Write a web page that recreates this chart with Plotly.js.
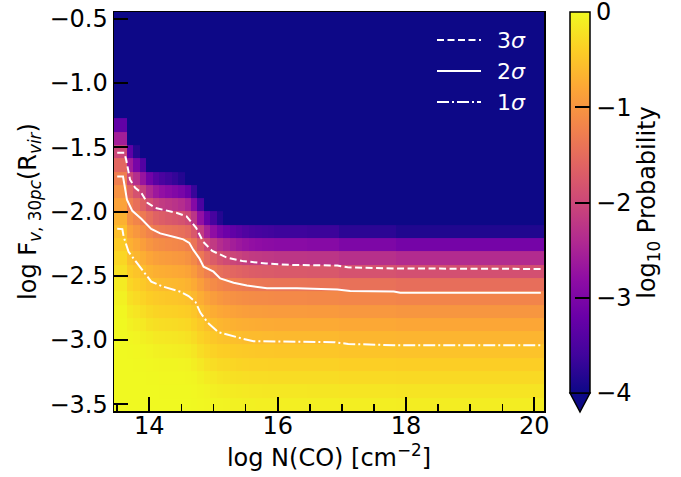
<!DOCTYPE html>
<html>
<head>
<meta charset="utf-8">
<script src="https://cdn.plot.ly/plotly-3.0.1.min.js"></script>
<style>html,body{margin:0;padding:0;background:#fff;}#chart{width:681px;height:477px;}</style>
</head>
<body>
<div id="chart"></div>
<script>
const _ = null;
// bin edges in log N(CO)
const xEdges = [13.45,13.55,13.65,13.75,13.85,13.95,14.05,14.15,14.25,14.35,14.45,14.55,14.65,14.75,14.85,14.95,15.05,15.15,15.25,15.35,15.45,15.55,15.65,15.75,15.85,15.95,16.45,16.95,17.85,20.15];
// bin centres in log F (top to bottom)
const yCenters = [-0.500,-0.603,-0.707,-0.810,-0.914,-1.017,-1.121,-1.224,-1.328,-1.431,-1.534,-1.638,-1.741,-1.845,-1.948,-2.052,-2.155,-2.259,-2.362,-2.466,-2.569,-2.672,-2.776,-2.879,-2.983,-3.086,-3.190,-3.293,-3.397,-3.500];
// log10 probability, rows top to bottom
const logProb = [
[_,_,_,_,_, _,_,_,_,_, _,_,_,_,_, _,_,_,_,_, _,_,_,_,_, _,_,_,_],
[_,_,_,_,_, _,_,_,_,_, _,_,_,_,_, _,_,_,_,_, _,_,_,_,_, _,_,_,_],
[_,_,_,_,_, _,_,_,_,_, _,_,_,_,_, _,_,_,_,_, _,_,_,_,_, _,_,_,_],
[_,_,_,_,_, _,_,_,_,_, _,_,_,_,_, _,_,_,_,_, _,_,_,_,_, _,_,_,_],
[_,_,_,_,_, _,_,_,_,_, _,_,_,_,_, _,_,_,_,_, _,_,_,_,_, _,_,_,_],
[_,_,_,_,_, _,_,_,_,_, _,_,_,_,_, _,_,_,_,_, _,_,_,_,_, _,_,_,_],
[_,_,_,_,_, _,_,_,_,_, _,_,_,_,_, _,_,_,_,_, _,_,_,_,_, _,_,_,_],
[_,_,_,_,_, _,_,_,_,_, _,_,_,_,_, _,_,_,_,_, _,_,_,_,_, _,_,_,_],
[-3.28,-3.28,_,_,_, _,_,_,_,_, _,_,_,_,_, _,_,_,_,_, _,_,_,_,_, _,_,_,_],
[-2.56,-2.56,_,_,_, _,_,_,_,_, _,_,_,_,_, _,_,_,_,_, _,_,_,_,_, _,_,_,_],
[-2.00,-2.00,-3.32,-3.81,_, _,_,_,_,_, _,_,_,_,_, _,_,_,_,_, _,_,_,_,_, _,_,_,_],
[-1.57,-1.57,-2.60,-3.05,-3.43, _,_,_,_,_, _,_,_,_,_, _,_,_,_,_, _,_,_,_,_, _,_,_,_],
[-1.27,-1.27,-2.03,-2.35,-2.70, -3.12,-3.38,-3.51,-3.61,-3.70, -3.82,_,_,_,_, _,_,_,_,_, _,_,_,_,_, _,_,_,_],
[-1.04,-1.04,-1.59,-1.85,-2.10, -2.42,-2.65,-2.77,-2.86,-2.95, -3.05,-3.22,-3.66,_,_, _,_,_,_,_, _,_,_,_,_, _,_,_,_],
[-0.85,-0.85,-1.28,-1.46,-1.65, -1.90,-2.07,-2.16,-2.22,-2.28, -2.36,-2.51,-2.91,-3.50,_, _,_,_,_,_, _,_,_,_,_, _,_,_,_],
[-0.69,-0.69,-1.06,-1.19,-1.32, -1.49,-1.63,-1.69,-1.75,-1.79, -1.85,-1.96,-2.25,-2.77,-3.25, -3.54,-3.82,_,_,_, _,_,_,_,_, _,_,_,_],
[-0.55,-0.55,-0.86,-0.98,-1.09, -1.21,-1.31,-1.35,-1.39,-1.42, -1.46,-1.54,-1.77,-2.15,-2.53, -2.80,-3.05,-3.18,-3.29,-3.37, -3.45,-3.51,-3.54,-3.57,-3.59, -3.62,-3.65,-3.77,-3.85],
[-0.43,-0.43,-0.70,-0.79,-0.89, -1.00,-1.07,-1.11,-1.14,-1.16, -1.19,-1.25,-1.40,-1.69,-1.98, -2.18,-2.36,-2.47,-2.57,-2.65, -2.72,-2.77,-2.80,-2.83,-2.84, -2.87,-2.90,-3.00,-3.08],
[-0.33,-0.33,-0.55,-0.64,-0.72, -0.81,-0.87,-0.91,-0.93,-0.95, -0.98,-1.03,-1.15,-1.35,-1.56, -1.71,-1.85,-1.94,-2.01,-2.06, -2.12,-2.16,-2.18,-2.20,-2.21, -2.23,-2.25,-2.32,-2.38],
[-0.23,-0.23,-0.43,-0.50,-0.57, -0.66,-0.71,-0.73,-0.75,-0.77, -0.79,-0.83,-0.94,-1.11,-1.26, -1.36,-1.46,-1.52,-1.58,-1.62, -1.66,-1.69,-1.71,-1.73,-1.73, -1.75,-1.77,-1.83,-1.87],
[-0.13,-0.13,-0.33,-0.39,-0.45, -0.52,-0.56,-0.59,-0.61,-0.62, -0.64,-0.68,-0.76,-0.90,-1.04, -1.12,-1.19,-1.24,-1.27,-1.30, -1.33,-1.35,-1.36,-1.37,-1.38, -1.39,-1.40,-1.44,-1.47],
[-0.07,-0.07,-0.23,-0.29,-0.35, -0.41,-0.44,-0.46,-0.48,-0.49, -0.51,-0.54,-0.62,-0.73,-0.84, -0.91,-0.98,-1.02,-1.05,-1.07, -1.09,-1.11,-1.12,-1.12,-1.13, -1.14,-1.15,-1.18,-1.20],
[-0.03,-0.03,-0.14,-0.19,-0.25, -0.31,-0.34,-0.36,-0.37,-0.38, -0.40,-0.42,-0.48,-0.59,-0.68, -0.74,-0.79,-0.82,-0.85,-0.87, -0.89,-0.91,-0.91,-0.92,-0.93, -0.93,-0.94,-0.97,-0.99],
[-0.01,-0.01,-0.07,-0.11,-0.15, -0.21,-0.24,-0.26,-0.27,-0.28, -0.30,-0.32,-0.38,-0.46,-0.54, -0.59,-0.64,-0.67,-0.69,-0.71, -0.72,-0.73,-0.74,-0.75,-0.75, -0.76,-0.76,-0.78,-0.80],
[0,0,-0.03,-0.05,-0.08, -0.11,-0.15,-0.16,-0.17,-0.18, -0.20,-0.22,-0.28,-0.36,-0.42, -0.47,-0.51,-0.53,-0.55,-0.56, -0.58,-0.59,-0.59,-0.60,-0.60, -0.61,-0.61,-0.64,-0.65],
[0,0,-0.01,-0.02,-0.03, -0.05,-0.07,-0.08,-0.09,-0.10, -0.11,-0.13,-0.18,-0.26,-0.32, -0.36,-0.40,-0.41,-0.43,-0.44, -0.45,-0.46,-0.47,-0.47,-0.47, -0.48,-0.48,-0.50,-0.51],
[0,0,0,-0.01,-0.01, -0.02,-0.03,-0.04,-0.04,-0.04, -0.05,-0.06,-0.10,-0.16,-0.22, -0.26,-0.30,-0.31,-0.33,-0.34, -0.35,-0.36,-0.36,-0.36,-0.37, -0.37,-0.37,-0.39,-0.40],
[0,0,0,0,0, -0.01,-0.01,-0.02,-0.02,-0.02, -0.02,-0.03,-0.04,-0.08,-0.13, -0.16,-0.20,-0.21,-0.23,-0.24, -0.25,-0.26,-0.26,-0.26,-0.27, -0.27,-0.27,-0.29,-0.30],
[0,0,0,0,0, 0,0,-0.01,-0.01,-0.01, -0.01,-0.01,-0.02,-0.04,-0.06, -0.09,-0.11,-0.12,-0.13,-0.14, -0.15,-0.16,-0.16,-0.17,-0.17, -0.17,-0.18,-0.19,-0.20],
[0,0,0,0,0, 0,0,0,0,0, 0,0,-0.01,-0.02,-0.03, -0.04,-0.05,-0.06,-0.07,-0.07, -0.08,-0.08,-0.09,-0.09,-0.09, -0.09,-0.09,-0.10,-0.11]
];
// contour lines
const sig3X = [13.5,13.61,13.64,13.70,13.78,13.875,13.97,14.09,14.22,14.42,14.58,14.73,14.84,14.98,15.2,15.45,15.82,16.2,16.93,17.09,17.83,20.1];
const sig3Y = [-1.544,-1.544,-1.597,-1.753,-1.815,-1.854,-1.932,-1.971,-1.987,-2.01,-2.037,-2.127,-2.236,-2.306,-2.357,-2.385,-2.404,-2.416,-2.42,-2.434,-2.443,-2.447];
const sig2X = [13.5,13.59,13.626,13.652,13.735,13.875,14.03,14.17,14.405,14.53,14.623,14.686,14.78,14.846,15.0,15.105,15.314,15.52,15.834,16.3,16.93,17.13,17.81,17.91,20.1];
const sig2Y = [-1.727,-1.727,-1.831,-1.909,-1.995,-2.057,-2.135,-2.17,-2.201,-2.217,-2.244,-2.299,-2.364,-2.429,-2.468,-2.52,-2.554,-2.576,-2.597,-2.597,-2.607,-2.619,-2.622,-2.632,-2.632];
const sig1X = [13.5,13.58,13.6,13.677,13.81,13.94,14.03,14.2,14.483,14.612,14.72,14.795,14.91,15.075,15.262,15.445,15.625,16.353,16.872,17.1,17.807,20.1];
const sig1Y = [-2.135,-2.137,-2.195,-2.314,-2.402,-2.486,-2.545,-2.582,-2.624,-2.658,-2.704,-2.786,-2.864,-2.938,-2.966,-2.988,-3.009,-3.014,-3.016,-3.03,-3.04,-3.04];
const sigNames = ['3<i>σ</i>','2<i>σ</i>','1<i>σ</i>'];
const sigDash = ['7px,3.5px','solid','12px,3px,2px,3px'];
const xTicks = [14,16,18,20];
const cbTicks = [-4,-3,-2,-1,0];

const plasma = [[0,'#0d0887'],[0.1,'#41049d'],[0.2,'#6a00a8'],[0.3,'#8f0da4'],[0.4,'#b12a90'],[0.5,'#cc4778'],[0.6,'#e16462'],[0.7,'#f2844b'],[0.8,'#fca636'],[0.9,'#fcce25'],[1,'#f0f921']];
const F = 'DejaVu Sans';
const FS = 24;
const L = 114, R = 544, T = 12, B = 411;
const px = v => (v - L) / (R - L);
const py = v => (B - v) / (B - T);

const sigX = [sig3X, sig2X, sig1X], sigY = [sig3Y, sig2Y, sig1Y];
const traces = [
  {type:'heatmap', x:xEdges, y:yCenters, z:logProb, zmin:-4, zmax:0, colorscale:plasma, showlegend:false, hoverinfo:'skip',
   colorbar:{x:px(570), xanchor:'left', xpad:0, thickness:20, thicknessmode:'pixels', len:(393-12)/(B-T), lenmode:'fraction',
     y:1, yanchor:'top', ypad:0, outlinewidth:1.5, outlinecolor:'black', tickvals:cbTicks, ticks:'inside', ticklen:15, tickwidth:2,
     tickcolor:'black', tickfont:{family:F, size:FS, color:'black'}, ticklabeloverflow:'allow',
     title:{text:'log<sub>10</sub> Probability', side:'right', font:{family:F, size:FS, color:'black'}}}}
];
for (let i = 0; i < 3; i++) {
  traces.push({type:'scatter', mode:'lines', x:sigX[i], y:sigY[i], name:sigNames[i], showlegend:false,
    line:{color:'white', width:2, dash:sigDash[i]}});
}
// legend drawn as key lines + labels inside the axes
const legY = [40, 71, 102];
const shapes = [{type:'path', xref:'paper', yref:'paper',
    path:'M '+px(570)+' '+py(393)+' L '+px(590)+' '+py(393)+' L '+px(580)+' '+py(412)+' Z',
    fillcolor:'#0d0887', line:{color:'black', width:1.5}}];
const annotations = [];
for (let i = 0; i < 3; i++) {
  shapes.push({type:'line', xref:'paper', yref:'paper', x0:px(437), x1:px(481), y0:py(legY[i]), y1:py(legY[i]),
    line:{color:'white', width:2, dash:sigDash[i]}});
  annotations.push({xref:'paper', yref:'paper', x:px(495), y:py(legY[i]), xanchor:'left', yanchor:'middle',
    text:sigNames[i], showarrow:false, font:{family:F, size:22, color:'white'}});
}
const layout = {
  width:681, height:477, margin:{l:L, r:681-R, t:T, b:477-B},
  paper_bgcolor:'white', plot_bgcolor:'#0d0887',
  font:{family:F, size:FS, color:'black'},
  showlegend:false,
  xaxis:{range:[13.45,20.15], tickvals:xTicks, ticks:'inside', ticklen:14, tickwidth:2, tickcolor:'black',
    minor:{dtick:0.5, tick0:0, ticks:'inside', ticklen:7, tickwidth:1.5, tickcolor:'black', showgrid:false},
    showline:true, linewidth:1.5, linecolor:'black', mirror:true, showgrid:false, zeroline:false,
    tickfont:{family:F, size:FS, color:'black'}, ticklabelstandoff:-7,
    title:{text:'log N(CO) [cm<sup>−2</sup>]', font:{family:F, size:FS, color:'black'}, standoff:8}},
  yaxis:{range:[-3.5517,-0.4483], dtick:0.5, tick0:-0.5, tickformat:'.1f', ticks:'inside', ticklen:14, tickwidth:2, tickcolor:'black',
    showline:true, linewidth:1.5, linecolor:'black', mirror:true, showgrid:false, zeroline:false,
    tickfont:{family:F, size:FS, color:'black'},
    title:{text:'log F<sub><i>v</i>, 30<i>pc</i></sub>(R<sub><i>vir</i></sub>)', font:{family:F, size:FS, color:'black'}, standoff:6}},
  shapes:shapes, annotations:annotations
};
Plotly.newPlot('chart', traces, layout, {displayModeBar:false, staticPlot:true});
</script>
</body>
</html>
